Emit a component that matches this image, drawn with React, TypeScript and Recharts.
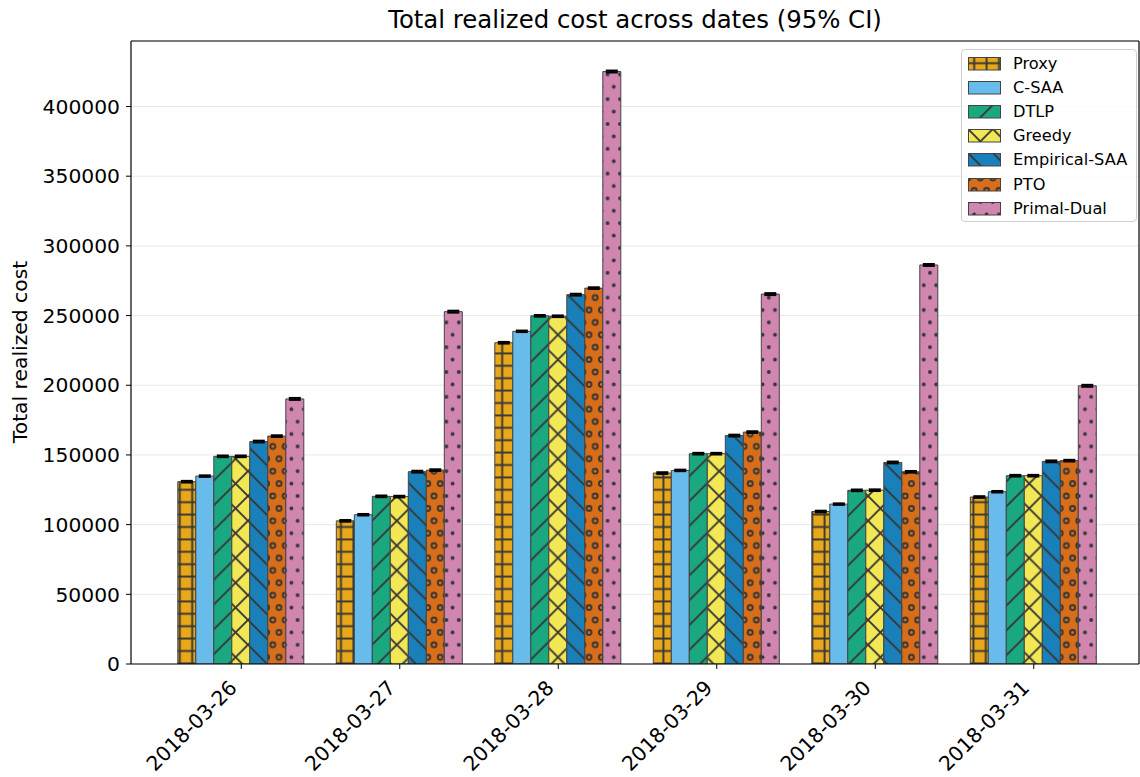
import { Bar, BarChart, CartesianGrid, ErrorBar, XAxis, YAxis } from 'recharts'

const dates = ['2018-03-26', '2018-03-27', '2018-03-28', '2018-03-29', '2018-03-30', '2018-03-31']

const proxy = [130800, 102700, 230500, 137000, 109400, 119800]
const cSaa = [134800, 107100, 238700, 138900, 114700, 123600]
const dtlp = [149000, 120300, 249800, 150900, 124600, 135100]
const greedy = [149000, 120100, 249500, 150900, 124700, 135100]
const empiricalSaa = [159600, 138000, 265000, 163900, 144600, 145400]
const pto = [163500, 139100, 269700, 166400, 137900, 145900]
const primalDual = [190200, 252800, 425100, 265400, 286300, 199600]

// half width of the 95% CI, per method (tiny compared with the totals)
const ciHalf = [600, 550, 600, 600, 650, 600, 700]

const methods = ['Proxy', 'C-SAA', 'DTLP', 'Greedy', 'Empirical-SAA', 'PTO', 'Primal-Dual']
const methodValues = [proxy, cSaa, dtlp, greedy, empiricalSaa, pto, primalDual]

const yTicks = [0, 50000, 100000, 150000, 200000, 250000, 300000, 350000, 400000]

const FONT = '"DejaVu Sans", sans-serif'
const HATCH = '#363636'
const U = 12.4
const U2 = U * 2

const fills = ['#E8A81A', '#67BCEB', '#1AA881', '#F2E755', '#1A80BA', '#D96E1A', '#D186B0']
const patIds = ['h-proxy', 'h-csaa', 'h-dtlp', 'h-greedy', 'h-emp', 'h-pto', 'h-pd']

const data = dates.map((d, i) => {
  const row: Record<string, string | number> = { date: d }
  methods.forEach((m, k) => {
    row[m] = methodValues[k][i]
    row[m + '_ci'] = ciHalf[k]
  })
  return row
})

function Patterns() {
  const sw = 1.9
  return (
    <defs>
      <pattern id='h-proxy' patternUnits='userSpaceOnUse' width={U} height={U}>
        <rect width={U} height={U} fill={fills[0]} />
        <path d={`M0 ${U / 2} H${U} M${U / 2} 0 V${U}`} stroke={HATCH} strokeWidth={sw} />
      </pattern>
      <pattern id='h-csaa' patternUnits='userSpaceOnUse' width={U} height={U}>
        <rect width={U} height={U} fill={fills[1]} />
      </pattern>
      <pattern id='h-dtlp' patternUnits='userSpaceOnUse' width={U2} height={U2}>
        <rect width={U2} height={U2} fill={fills[2]} />
        <path
          d={`M-2 ${U2 + 2} L${U2 + 2} -2 M-2 2 L2 -2 M${U2 - 2} ${U2 + 2} L${U2 + 2} ${U2 - 2}`}
          stroke={HATCH}
          strokeWidth={sw}
        />
      </pattern>
      <pattern id='h-greedy' patternUnits='userSpaceOnUse' width={U2} height={U2}>
        <rect width={U2} height={U2} fill={fills[3]} />
        <path
          d={`M-2 ${U2 + 2} L${U2 + 2} -2 M-2 2 L2 -2 M${U2 - 2} ${U2 + 2} L${U2 + 2} ${U2 - 2} M-2 -2 L${U2 + 2} ${U2 + 2} M${U2 - 2} -2 L${U2 + 2} 2 M-2 ${U2 - 2} L2 ${U2 + 2}`}
          stroke={HATCH}
          strokeWidth={sw}
        />
      </pattern>
      <pattern id='h-emp' patternUnits='userSpaceOnUse' width={U2} height={U2}>
        <rect width={U2} height={U2} fill={fills[4]} />
        <path
          d={`M-2 -2 L${U2 + 2} ${U2 + 2} M${U2 - 2} -2 L${U2 + 2} 2 M-2 ${U2 - 2} L2 ${U2 + 2}`}
          stroke={HATCH}
          strokeWidth={sw}
        />
      </pattern>
      <pattern id='h-pto' patternUnits='userSpaceOnUse' width={U} height={U2}>
        <rect width={U} height={U2} fill={fills[5]} />
        {[[0, 0], [U, 0], [0, U2], [U, U2], [U / 2, U]].map(([cx, cy], i) => (
          <circle key={i} cx={cx} cy={cy} r={2.5} fill='none' stroke={HATCH} strokeWidth={sw} />
        ))}
      </pattern>
      <pattern id='h-pd' patternUnits='userSpaceOnUse' width={U} height={U2}>
        <rect width={U} height={U2} fill={fills[6]} />
        {[[0, 0], [U, 0], [0, U2], [U, U2], [U / 2, U]].map(([cx, cy], i) => (
          <circle key={i} cx={cx} cy={cy} r={1.9} fill={HATCH} />
        ))}
      </pattern>
    </defs>
  )
}

function DateTick(props: any) {
  const { x, y, payload } = props
  return (
    <g transform={`translate(${x - 3},${y + 18})`}>
      <text textAnchor='end' transform='rotate(-45)' fontSize={20.3} fontFamily={FONT} fill='#000'>
        {payload.value}
      </text>
    </g>
  )
}

function LegendBox() {
  return (
    <div
      style={{
        position: 'absolute',
        left: 961,
        top: 49,
        width: 176,
        height: 173,
        border: '1px solid #d0d0d0',
        borderRadius: 4,
        background: 'rgba(255,255,255,0.8)',
        boxSizing: 'border-box',
        fontFamily: FONT,
        fontSize: 16.2,
        color: '#000',
      }}
    >
      {methods.map((m, k) => (
        <div
          key={m}
          style={{ position: 'absolute', left: 6, top: 4 + k * 24.1, height: 20, display: 'flex', alignItems: 'center' }}
        >
          <svg width={34} height={14} style={{ display: 'block' }}>
            <rect x={0.5} y={0.5} width={32} height={12.5} fill={`url(#${patIds[k]})`} stroke='#444' strokeWidth={1} />
          </svg>
          <span style={{ marginLeft: 11, whiteSpace: 'nowrap', lineHeight: '20px' }}>{m}</span>
        </div>
      ))}
    </div>
  )
}

export default function App() {
  return (
    <div style={{ position: 'absolute', left: 0, top: 0, width: 1140, height: 777, background: '#fff' }}>
      <BarChart
        width={1140}
        height={777}
        data={data}
        margin={{ top: 40, right: 0, left: 0, bottom: 0 }}
        barCategoryGap={15.8}
        barGap={0}
      >
        <Patterns />
        <CartesianGrid vertical={false} stroke='#e8e8e8' strokeWidth={1} />
        <XAxis
          dataKey='date'
          height={113}
          padding={{ left: 31, right: 26 }}
          tickSize={5}
          tick={<DateTick />}
          stroke='#000'
          axisLine={{ stroke: '#000', strokeWidth: 1.2 }}
          tickLine={{ stroke: '#000' }}
          interval={0}
        />
        <XAxis
          xAxisId='top'
          dataKey='date'
          orientation='top'
          height={1}
          tick={false}
          tickLine={false}
          axisLine={{ stroke: '#000', strokeWidth: 1.2 }}
        />
        <YAxis
          width={131}
          domain={[0, 447000]}
          ticks={yTicks}
          interval={0}
          tickSize={5}
          tickMargin={6}
          allowDataOverflow
          tick={{ fontSize: 20.3, fill: '#000', fontFamily: FONT }}
          axisLine={{ stroke: '#000', strokeWidth: 1.2 }}
          tickLine={{ stroke: '#000' }}
        />
        <YAxis
          yAxisId='right'
          orientation='right'
          width={1}
          domain={[0, 1]}
          tick={false}
          tickLine={false}
          axisLine={{ stroke: '#000', strokeWidth: 1.2 }}
        />
        {methods.map((m, k) => (
          <Bar
            key={m}
            dataKey={m}
            fill={`url(#${patIds[k]})`}
            stroke='#444'
            strokeWidth={1}
            isAnimationActive={false}
          >
            <ErrorBar dataKey={m + '_ci'} width={6} strokeWidth={2} stroke='#000' isAnimationActive={false} />
          </Bar>
        ))}
        <text x={635} y={28} textAnchor='middle' fontSize={24.4} fontFamily={FONT} fill='#000'>
          Total realized cost across dates (95% CI)
        </text>
        <text
          x={27}
          y={352}
          textAnchor='middle'
          transform='rotate(-90 27 352)'
          fontSize={20.3}
          fontFamily={FONT}
          fill='#000'
        >
          Total realized cost
        </text>
      </BarChart>
      <LegendBox />
    </div>
  )
}
